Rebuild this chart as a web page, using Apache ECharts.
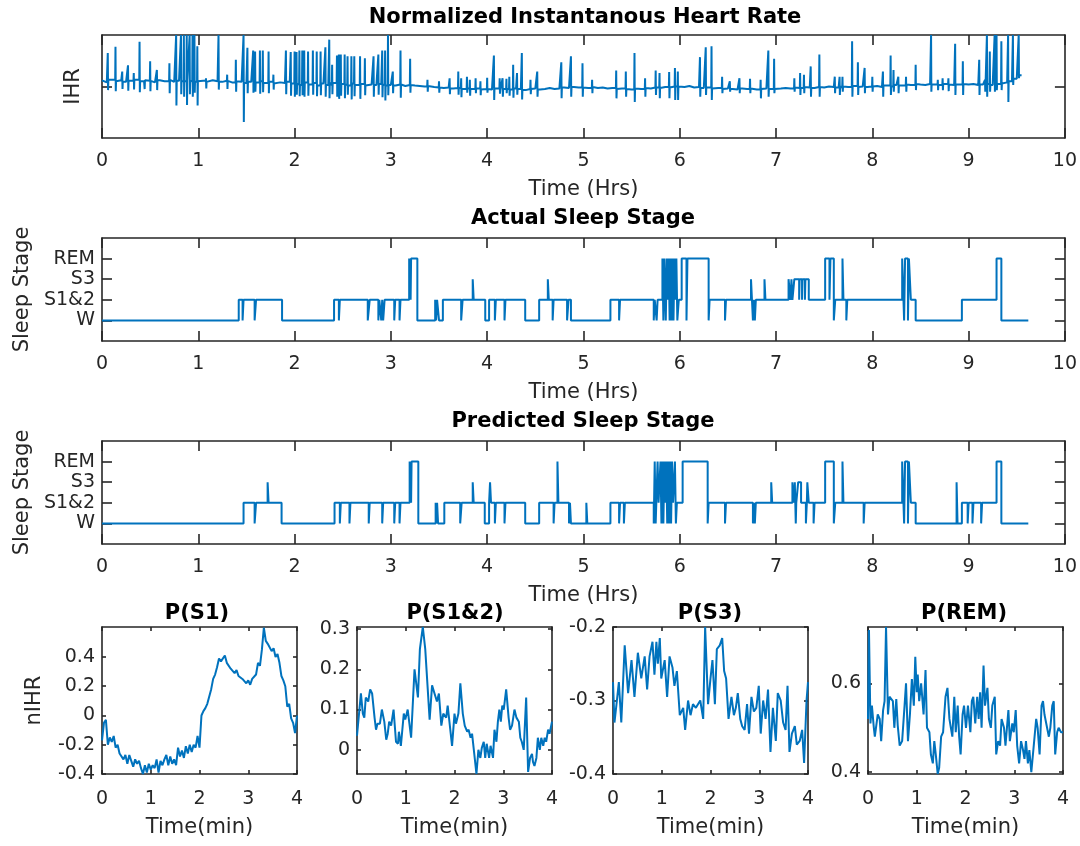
<!DOCTYPE html>
<html>
<head>
<meta charset="utf-8">
<script src="https://cdn.jsdelivr.net/npm/echarts@6/dist/echarts.min.js"></script>
<style>
  html, body { margin: 0; padding: 0; background: #fff; }
  #chart { width: 1080px; height: 846px; }
</style>
</head>
<body>
<div id="chart"></div>
<script>
// ---- normalized IHR (hours), baseline sampled every 0.05 h ----
const IHR_STEP = 0.05;
const ihrBase = [
  0.12,0.08,0.13,0.10,0.12,0.09,0.11,0.13,0.10,0.12,0.11,0.08,0.12,0.10,0.13,0.09,0.11,0.10,0.12,0.09,
  0.10,0.11,0.09,0.12,0.10,0.09,0.11,0.08,0.10,0.09,0.07,0.09,0.08,0.10,0.07,0.09,0.06,0.08,0.07,0.09,
  0.06,0.03,0.08,0.04,0.07,0.02,0.06,0.03,0.07,0.04,0.05,0.02,0.06,0.03,0.05,0.02,0.04,0.03,0.05,0.02,
  0.03,0.02,0.04,0.01,0.03,0.02,0.01,0.00,0.01,-0.01,-0.02,-0.03,-0.02,-0.04,-0.03,-0.05,-0.04,-0.05,-0.04,-0.06,
  -0.05,-0.06,-0.04,-0.07,-0.05,-0.06,-0.04,-0.05,-0.07,-0.05,-0.04,-0.06,-0.05,-0.03,-0.05,-0.04,-0.02,-0.03,-0.01,-0.02,
  -0.02,-0.03,-0.01,-0.03,-0.02,-0.04,-0.03,-0.05,-0.04,-0.05,-0.06,-0.04,-0.05,-0.03,-0.04,-0.02,-0.03,-0.01,-0.02,0.00,
  0.00,-0.01,0.01,-0.02,-0.01,-0.03,-0.02,-0.04,-0.03,-0.05,-0.04,-0.05,-0.06,-0.04,-0.05,-0.04,-0.06,-0.05,-0.04,-0.05,
  -0.05,-0.04,-0.03,-0.04,-0.02,-0.03,-0.01,-0.02,-0.03,-0.01,-0.02,0.00,-0.01,-0.02,0.00,-0.01,0.01,-0.01,0.00,-0.01,
  0.00,0.01,-0.01,0.02,0.00,0.03,0.02,0.04,0.03,0.05,0.04,0.03,0.05,0.04,0.03,0.05,0.04,0.03,0.04,0.05,
  0.04,0.05,0.03,0.04,0.05,0.03,0.05,0.06,0.08,0.10,0.15,0.22
];
// beats that jump away from the baseline: time, peak, trough
const ihrSpikeT = [
  0.06,0.14,0.21,0.27,0.33,0.39,0.44,0.50,0.57,0.70,0.77,0.82,0.85,0.88,0.91,0.94,0.96,0.99,1.08,1.21,1.30,1.39,1.47,1.51,1.57,1.59,1.64,1.67,1.73,1.78,1.91,1.96,2.00,2.02,2.05,2.08,2.10,2.14,2.19,2.23,2.27,2.32,2.36,2.39,2.44,2.46,2.48,2.52,2.55,2.59,2.62,2.68,2.73,2.82,2.87,2.91,2.94,2.97,3.02,3.10,3.20,3.38,3.50,3.61,3.70,3.73,3.79,3.82,3.88,3.93,4.00,4.07,4.13,4.16,4.20,4.23,4.27,4.31,4.36,4.45,4.52,
  4.77,4.87,4.99,5.09,5.34,5.44,5.53,5.64,5.75,5.79,5.89,5.95,5.98,6.21,6.27,6.33,6.44,6.52,6.62,6.73,6.84,6.92,6.98,7.19,7.25,7.29,7.36,7.45,7.61,7.66,7.69,7.79,7.85,7.92,8.00,8.11,8.19,8.22,8.27,8.35,8.45,8.61,8.68,8.73,8.79,8.86,8.94,9.11,9.17,9.19,9.22,9.27,9.29,9.34,9.41,9.46,9.52
];
const ihrSpikeTop = [
  0.65,0.77,0.29,0.41,0.26,0.87,0.13,0.49,0.32,0.45,1,1,1,1,1,1,1,0.78,0.16,1,0.23,0.52,1,0.75,0.70,0.68,0.70,0.70,0.68,0.23,0.70,0.67,0.68,0.67,0.70,0.70,0.70,0.68,0.70,0.68,0.68,0.76,0.91,0.42,0.60,0.62,0.62,0.62,0.585,0.585,0.585,0.585,0.55,0.585,0.62,0.70,0.70,1,0.29,0.70,0.54,0.13,0.10,0.16,0.29,0.16,0.19,0.13,0.16,0.10,0.17,0.60,0.16,0.16,0.15,0.19,0.42,0.26,0.65,0.13,0.29,
  0.47,0.585,0.45,0.13,0.31,0.29,0.65,0.16,0.31,0.26,0.28,0.36,0.29,0.57,0.76,0.78,0.19,0.10,0.16,0.15,0.13,0.70,0.54,0.16,0.26,0.23,0.39,0.62,0.19,0.19,0.19,0.88,0.47,0.36,0.19,0.29,0.60,0.32,0.19,0.19,0.42,1,0.13,0.16,0.16,0.83,0.49,0.52,0.13,1,0.68,1,1,0.88,1,1,1
];
const ihrSpikeLow = [
  -0.07,-0.09,-0.05,-0.08,-0.06,-0.11,-0.05,-0.09,-0.07,-0.13,-0.37,-0.15,-0.20,-0.36,-0.15,-0.20,-0.12,-0.37,-0.04,-0.06,-0.05,-0.10,-0.69,-0.13,-0.12,-0.10,-0.14,-0.11,-0.13,-0.06,-0.15,-0.18,-0.20,-0.16,-0.19,-0.17,-0.20,-0.18,-0.16,-0.19,-0.17,-0.20,-0.23,-0.15,-0.20,-0.24,-0.18,-0.23,-0.16,-0.25,-0.19,-0.24,-0.17,-0.20,-0.16,-0.21,-0.27,-0.17,-0.13,-0.22,-0.12,-0.10,-0.12,-0.15,-0.16,-0.21,-0.12,-0.18,-0.13,-0.17,-0.12,-0.26,-0.14,-0.20,-0.13,-0.18,-0.22,-0.16,-0.25,-0.15,-0.20,
  -0.23,-0.20,-0.20,-0.13,-0.23,-0.20,-0.30,-0.20,-0.165,-0.23,-0.23,-0.26,-0.26,-0.20,-0.165,-0.26,-0.13,-0.10,-0.13,-0.13,-0.23,-0.20,-0.13,-0.10,-0.165,-0.13,-0.20,-0.20,-0.13,-0.165,-0.10,-0.20,-0.165,-0.13,-0.10,-0.20,-0.165,-0.10,-0.13,-0.10,-0.07,-0.10,-0.07,-0.07,-0.09,-0.165,-0.165,-0.165,-0.10,-0.20,-0.10,-0.10,-0.07,-0.07,-0.30,0.03,0.16
];

// ---- sleep stages: [time (h), stage] held until the next change ----
const stageTicks = [1, 2, 3, 4];
const stageLabels = ['W', 'S1&2', 'S3', 'REM'];
const actualSteps = [
  [0,1],[1.42,2],[1.46,1],[1.47,2],[1.585,1],[1.60,2],[1.87,1],[2.41,2],[2.46,1],[2.47,2],
  [2.76,1],[2.78,2],[2.87,1],[2.88,2],[2.90,1],[2.91,2],[2.92,1],[2.935,2],[3.035,1],[3.045,2],
  [3.09,1],[3.10,2],[3.19,4],[3.205,2],[3.21,4],[3.275,1],[3.46,2],[3.47,1],[3.48,2],[3.50,1],
  [3.54,2],[3.73,1],[3.745,2],[3.85,3],[3.86,2],[3.98,1],[4.02,2],[4.08,1],[4.09,2],[4.18,1],
  [4.19,2],[4.395,1],[4.54,2],[4.63,3],[4.64,2],[4.68,1],[4.69,2],[4.83,1],[4.845,2],[4.87,1],
  [5.28,2],[5.37,1],[5.38,2],[5.73,1],[5.74,2],[5.76,1],[5.77,2],[5.82,4],[5.83,1],[5.84,4],
  [5.855,1],[5.865,4],[5.875,2],[5.885,4],[5.895,1],[5.905,4],[5.915,1],[5.925,4],[5.935,1],[5.945,4],
  [5.955,2],[5.965,4],[5.975,1],[5.99,2],[6.02,4],[6.07,1],[6.08,4],[6.30,1],[6.31,2],[6.47,1],
  [6.48,2],[6.74,3],[6.75,2],[6.76,1],[6.77,2],[6.78,1],[6.79,2],[6.88,3],[6.89,2],[7.13,3],
  [7.15,2],[7.16,3],[7.17,2],[7.19,3],[7.24,2],[7.245,3],[7.27,2],[7.275,3],[7.30,2],[7.305,3],
  [7.34,2],[7.51,4],[7.555,2],[7.565,4],[7.60,1],[7.615,2],[7.69,4],[7.70,2],[7.73,1],[7.74,2],
  [8.31,4],[8.33,1],[8.34,4],[8.37,1],[8.38,4],[8.40,2],[8.45,1],[8.93,2],[9.29,4],[9.34,1],[9.62,1]
];
const predictedSteps = [
  [0,1],[1.47,2],[1.585,1],[1.60,2],[1.72,3],[1.73,2],[1.865,1],[2.415,2],[2.47,1],[2.48,2],
  [2.57,1],[2.58,2],[2.77,1],[2.78,2],[2.91,1],[2.92,2],[3.035,1],[3.045,2],[3.09,1],[3.10,2],
  [3.195,4],[3.21,2],[3.215,4],[3.285,1],[3.465,2],[3.47,1],[3.48,2],[3.49,1],[3.555,2],[3.72,1],
  [3.735,2],[3.85,3],[3.86,2],[3.975,1],[4.02,2],[4.03,3],[4.04,2],[4.08,1],[4.09,2],[4.18,1],
  [4.19,2],[4.395,1],[4.54,2],[4.69,1],[4.70,2],[4.73,4],[4.74,2],[4.85,1],[4.86,2],[4.87,1],
  [5.03,2],[5.04,1],[5.28,2],[5.37,1],[5.38,2],[5.42,1],[5.43,2],[5.73,1],[5.74,4],[5.75,1],
  [5.77,4],[5.78,2],[5.80,4],[5.81,1],[5.82,4],[5.83,1],[5.84,4],[5.85,2],[5.86,4],[5.87,1],
  [5.88,4],[5.89,1],[5.90,4],[5.91,1],[5.92,4],[5.93,2],[5.95,4],[5.96,1],[5.97,2],[6.03,4],
  [6.29,1],[6.30,2],[6.47,1],[6.48,2],[6.76,1],[6.77,2],[6.78,1],[6.79,2],[6.95,3],[6.96,2],
  [7.17,3],[7.18,2],[7.195,3],[7.205,1],[7.21,2],[7.23,3],[7.26,2],[7.31,1],[7.32,2],[7.325,3],
  [7.34,2],[7.39,1],[7.40,2],[7.51,4],[7.60,1],[7.615,2],[7.69,4],[7.70,2],[7.91,1],[7.92,2],
  [8.31,4],[8.33,1],[8.34,4],[8.37,1],[8.38,4],[8.40,2],[8.45,1],[8.875,3],[8.885,1],[8.93,2],
  [8.99,1],[9.00,2],[9.04,1],[9.05,2],[9.13,1],[9.14,2],[9.29,4],[9.34,1],[9.62,1]
];

// ---- 4-minute nIHR snippets ----
const S1_STEP = 0.04;
const s1Values = [
  -0.17,-0.05,-0.03,-0.20,-0.15,-0.18,-0.14,-0.22,-0.20,-0.26,
  -0.25,-0.30,-0.27,-0.33,-0.27,-0.31,-0.35,-0.30,-0.33,-0.31,
  -0.36,-0.40,-0.34,-0.39,-0.33,-0.37,-0.34,-0.36,-0.30,-0.39,
  -0.31,-0.34,-0.30,-0.27,-0.34,-0.28,-0.33,-0.30,-0.34,-0.22,
  -0.28,-0.24,-0.29,-0.21,-0.26,-0.20,-0.25,-0.20,-0.22,-0.14,
  -0.22,0.00,0.03,0.05,0.08,0.07,0.18,0.25,0.28,0.33,
  0.39,0.37,0.38,0.41,0.36,0.35,0.32,0.33,0.29,0.31,
  0.27,0.28,0.25,0.26,0.22,0.24,0.21,0.25,0.26,0.28,
  0.36,0.34,0.45,0.60,0.51,0.49,0.50,0.44,0.46,0.40,
  0.42,0.36,0.27,0.24,0.20,0.06,0.08,-0.02,-0.05,-0.12,
  0.00
];
const s12Points = [
  [0.00,0.035],[0.08,0.14],[0.12,0.09],[0.15,0.08],[0.18,0.13],[0.23,0.12],[0.27,0.15],[0.31,0.14],[0.36,0.08],[0.39,0.05],
  [0.42,0.065],[0.47,0.065],[0.51,0.10],[0.56,0.07],[0.60,0.025],[0.63,0.04],[0.66,0.07],[0.70,0.06],[0.75,0.10],[0.80,0.02],
  [0.84,0.015],[0.86,0.045],[0.90,0.01],[0.96,0.09],[0.99,0.075],[1.04,0.10],[1.11,0.03],[1.18,0.20],[1.21,0.17],[1.25,0.13],
  [1.29,0.25],[1.35,0.305],[1.40,0.25],[1.49,0.075],[1.54,0.16],[1.59,0.14],[1.64,0.12],[1.68,0.14],[1.73,0.06],[1.77,0.09],
  [1.83,0.08],[1.86,0.11],[1.95,0.01],[2.00,0.09],[2.03,0.065],[2.08,0.09],[2.12,0.165],[2.17,0.09],[2.21,0.06],[2.26,0.045],
  [2.29,0.05],[2.33,0.03],[2.36,0.04],[2.41,-0.015],[2.45,-0.06],[2.49,0.00],[2.53,-0.02],[2.56,0.005],[2.60,0.02],[2.63,-0.02],
  [2.66,0.015],[2.71,-0.02],[2.74,0.01],[2.79,-0.02],[2.82,0.05],[2.86,0.02],[2.89,0.07],[2.92,0.10],[2.95,0.07],[2.98,0.11],
  [3.01,0.10],[3.06,0.15],[3.11,0.08],[3.14,0.05],[3.18,0.06],[3.23,0.10],[3.27,0.08],[3.32,0.07],[3.35,0.03],[3.38,0.02],
  [3.42,0.00],[3.47,0.13],[3.51,-0.055],[3.55,-0.02],[3.59,-0.01],[3.61,-0.03],[3.64,-0.04],[3.68,-0.02],[3.71,0.03],[3.75,0.00],
  [3.78,0.03],[3.82,0.01],[3.85,0.03],[3.88,0.02],[3.92,0.05],[3.95,0.04],[4.00,0.07]
];
const s3Points = [
  [0.00,-0.275],[0.03,-0.33],[0.08,-0.30],[0.12,-0.275],[0.17,-0.33],[0.24,-0.225],[0.31,-0.29],[0.38,-0.245],[0.44,-0.295],[0.51,-0.235],
  [0.58,-0.27],[0.65,-0.24],[0.70,-0.285],[0.75,-0.24],[0.81,-0.22],[0.85,-0.265],[0.89,-0.22],[0.92,-0.25],[0.96,-0.215],[0.99,-0.27],
  [1.06,-0.245],[1.11,-0.295],[1.16,-0.24],[1.22,-0.255],[1.26,-0.28],[1.31,-0.26],[1.37,-0.32],[1.44,-0.31],[1.48,-0.34],[1.54,-0.30],
  [1.59,-0.32],[1.64,-0.305],[1.70,-0.31],[1.74,-0.31],[1.79,-0.30],[1.85,-0.325],[1.89,-0.20],[1.95,-0.305],[2.00,-0.27],[2.04,-0.245],
  [2.09,-0.305],[2.13,-0.23],[2.19,-0.225],[2.24,-0.215],[2.28,-0.26],[2.32,-0.27],[2.37,-0.325],[2.43,-0.295],[2.48,-0.32],[2.52,-0.31],
  [2.56,-0.29],[2.61,-0.325],[2.65,-0.335],[2.70,-0.34],[2.75,-0.305],[2.79,-0.345],[2.84,-0.295],[2.89,-0.315],[2.94,-0.31],[2.99,-0.28],
  [3.03,-0.345],[3.08,-0.30],[3.13,-0.325],[3.18,-0.285],[3.23,-0.37],[3.28,-0.31],[3.34,-0.355],[3.38,-0.29],[3.44,-0.30],[3.49,-0.33],
  [3.54,-0.34],[3.58,-0.28],[3.62,-0.37],[3.67,-0.345],[3.73,-0.335],[3.77,-0.36],[3.83,-0.355],[3.88,-0.34],[3.92,-0.385],[3.97,-0.30],
  [4.00,-0.275]
];
const remPoints = [
  [0.00,0.52],[0.02,0.72],[0.05,0.51],[0.08,0.55],[0.12,0.50],[0.14,0.48],[0.17,0.48],[0.20,0.53],[0.24,0.52],[0.27,0.47],
  [0.31,0.54],[0.34,0.56],[0.37,0.727],[0.41,0.53],[0.44,0.57],[0.48,0.57],[0.51,0.56],[0.54,0.50],[0.58,0.565],[0.61,0.505],
  [0.65,0.46],[0.70,0.47],[0.75,0.55],[0.78,0.60],[0.82,0.47],[0.86,0.53],[0.90,0.61],[0.94,0.55],[0.97,0.66],[1.00,0.58],
  [1.02,0.62],[1.05,0.56],[1.09,0.60],[1.14,0.53],[1.18,0.63],[1.21,0.50],[1.26,0.49],[1.29,0.44],[1.33,0.42],[1.36,0.47],
  [1.39,0.44],[1.43,0.396],[1.46,0.41],[1.50,0.48],[1.54,0.49],[1.59,0.57],[1.63,0.59],[1.67,0.52],[1.70,0.50],[1.73,0.48],
  [1.77,0.57],[1.80,0.49],[1.84,0.55],[1.87,0.48],[1.90,0.44],[1.94,0.53],[1.97,0.55],[2.01,0.50],[2.05,0.55],[2.10,0.49],
  [2.13,0.56],[2.16,0.57],[2.20,0.51],[2.24,0.57],[2.27,0.52],[2.30,0.58],[2.33,0.50],[2.37,0.64],[2.40,0.55],[2.45,0.59],
  [2.48,0.52],[2.52,0.50],[2.55,0.55],[2.60,0.57],[2.63,0.44],[2.67,0.47],[2.71,0.46],[2.74,0.52],[2.79,0.50],[2.82,0.46],
  [2.88,0.54],[2.91,0.47],[2.96,0.51],[2.99,0.49],[3.03,0.54],[3.06,0.46],[3.10,0.42],[3.14,0.47],[3.18,0.45],[3.21,0.43],
  [3.24,0.47],[3.28,0.42],[3.31,0.45],[3.35,0.40],[3.40,0.46],[3.45,0.52],[3.48,0.50],[3.52,0.44],[3.56,0.55],[3.59,0.56],
  [3.62,0.53],[3.65,0.53],[3.71,0.48],[3.74,0.50],[3.78,0.55],[3.81,0.56],[3.84,0.44],[3.88,0.49],[3.91,0.50],[3.96,0.49],
  [4.00,0.49]
];
const s1Ticks = [-0.4, -0.2, 0, 0.2, 0.4];
const s1TickLabels = ['-0.4', '-0.2', '0', '0.2', '0.4'];
const s12Ticks = [0, 0.1, 0.2, 0.3];
const s12TickLabels = ['0', '0.1', '0.2', '0.3'];
const s3Ticks = [-0.4, -0.3, -0.2];
const s3TickLabels = ['-0.4', '-0.3', '-0.2'];
const remTicks = [0.4, 0.6];
const remTickLabels = ['0.4', '0.6'];

// ---- build the polyline for the IHR panel (spikes go straight up and down) ----
const ihrData = ihrBase.map((v, i) => [+(i * IHR_STEP).toFixed(3), v]);
ihrSpikeT.forEach((t, k) => {
  const last = ihrBase.length - 1;
  const before = ihrBase[Math.min(last, Math.floor(t / IHR_STEP))];
  const after = ihrBase[Math.min(last, Math.ceil(t / IHR_STEP))];
  ihrData.push([t - 0.003, before], [t, ihrSpikeTop[k]], [t + 0.003, ihrSpikeLow[k]], [t + 0.006, after]);
});
ihrData.sort((a, b) => a[0] - b[0]);
const s1Data = s1Values.map((v, i) => [+(i * S1_STEP).toFixed(2), v]);

// ---- layout / style ----
const INK = '#262626';
const BLUE = '#0072BD';
const FONT = 'DejaVu Sans';
const AXW = 1.6;

const grids = [
  { left: 102, top: 35, width: 963, height: 103 },
  { left: 102, top: 238, width: 963, height: 103 },
  { left: 102, top: 441, width: 963, height: 103 },
  { left: 102, top: 627, width: 195, height: 147 },
  { left: 357, top: 627, width: 195, height: 147 },
  { left: 613, top: 627, width: 195, height: 147 },
  { left: 868, top: 627, width: 195, height: 147 }
];

function lineStyle() { return { color: INK, width: AXW }; }

function makeX(gi, max, tickLen, name, nameGap, margin) {
  const common = {
    gridIndex: gi, type: 'value', min: 0, max: max, interval: 1,
    axisLine: { show: true, onZero: false, lineStyle: lineStyle() },
    axisTick: { show: true, inside: true, length: tickLen, lineStyle: lineStyle() },
    splitLine: { show: false }
  };
  return [
    Object.assign({}, common, {
      position: 'bottom', name: name, nameLocation: 'middle', nameGap: nameGap,
      nameTextStyle: { fontFamily: FONT, fontSize: 21, color: INK },
      axisLabel: { fontFamily: FONT, fontSize: 19, color: INK, margin: margin }
    }),
    Object.assign({}, common, { position: 'top', axisLabel: { show: false } })
  ];
}

function makeY(gi, min, max, ticks, labels, tickLen, name, nameGap) {
  const common = {
    gridIndex: gi, type: 'value', min: min, max: max,
    axisLine: { show: true, onZero: false, lineStyle: lineStyle() },
    axisTick: { show: true, inside: true, length: tickLen, customValues: ticks, lineStyle: lineStyle() },
    splitLine: { show: false }
  };
  const pick = (v) => {
    for (let k = 0; k < ticks.length; k++) if (Math.abs(ticks[k] - v) < 1e-6) return labels[k];
    return '';
  };
  return [
    Object.assign({}, common, {
      position: 'left', name: name, nameLocation: 'middle', nameGap: nameGap,
      nameTextStyle: { fontFamily: FONT, fontSize: 21, color: INK },
      axisLabel: labels
        ? { show: true, customValues: ticks, formatter: pick, fontFamily: FONT, fontSize: 19, color: INK, margin: 7 }
        : { show: false }
    }),
    Object.assign({}, common, { position: 'right', axisLabel: { show: false } })
  ];
}

const xAxis = [].concat(
  makeX(0, 10, 10, 'Time (Hrs)', 41, 14),
  makeX(1, 10, 10, 'Time (Hrs)', 41, 14),
  makeX(2, 10, 10, 'Time (Hrs)', 41, 14),
  makeX(3, 4, 4, 'Time(min)', 43, 16),
  makeX(4, 4, 4, 'Time(min)', 43, 16),
  makeX(5, 4, 4, 'Time(min)', 43, 16),
  makeX(6, 4, 4, 'Time(min)', 43, 16)
);
const yAxis = [].concat(
  makeY(0, -1, 1, [0], null, 10, 'IHR', 18),
  makeY(1, 0, 5, stageTicks, stageLabels, 10, 'Sleep Stage', 63),
  makeY(2, 0, 5, stageTicks, stageLabels, 10, 'Sleep Stage', 63),
  makeY(3, -0.4, 0.605, s1Ticks, s1TickLabels, 4, 'nIHR', 57),
  makeY(4, -0.06, 0.305, s12Ticks, s12TickLabels, 4, '', 0),
  makeY(5, -0.4, -0.2, s3Ticks, s3TickLabels, 4, '', 0),
  makeY(6, 0.396, 0.727, remTicks, remTickLabels, 4, '', 0)
);

function title(text, cx, top) {
  return {
    text: text, left: cx, top: top, textAlign: 'center', padding: 0,
    textStyle: { fontFamily: FONT, fontSize: 21, fontWeight: 'bold', color: '#000' }
  };
}
const titles = [
  title('Normalized Instantanous Heart Rate', 585, 7),
  title('Actual Sleep Stage', 583, 208),
  title('Predicted Sleep Stage', 583, 411),
  title('P(S1)', 197, 603),
  title('P(S1&2)', 455, 603),
  title('P(S3)', 710, 603),
  title('P(REM)', 964, 603)
];

function series(gi, data, step) {
  const s = {
    type: 'line', xAxisIndex: 2 * gi, yAxisIndex: 2 * gi, data: data,
    symbol: 'none', silent: true, animation: false,
    lineStyle: { color: BLUE, width: 2 }
  };
  if (step) s.step = 'end';
  return s;
}

const chart = echarts.init(document.getElementById('chart'), null, { renderer: 'canvas' });
chart.setOption({
  backgroundColor: '#fff',
  animation: false,
  title: titles,
  grid: grids,
  xAxis: xAxis,
  yAxis: yAxis,
  series: [
    series(0, ihrData, false),
    series(1, actualSteps, true),
    series(2, predictedSteps, true),
    series(3, s1Data, false),
    series(4, s12Points, false),
    series(5, s3Points, false),
    series(6, remPoints, false)
  ]
});
</script>
</body>
</html>
